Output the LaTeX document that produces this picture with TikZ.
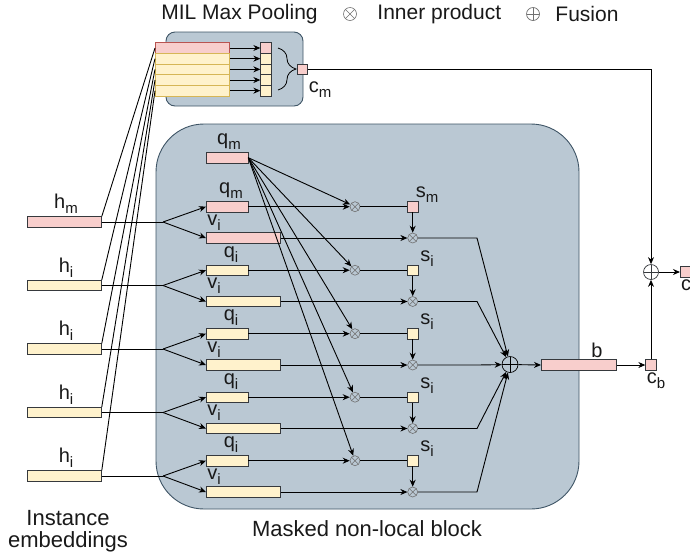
\documentclass[tikz,border=0pt]{standalone}
\usepackage{fontspec}
\setmainfont{Liberation Sans}
\usetikzlibrary{arrows.meta}
\usetikzlibrary{calc}
\usetikzlibrary{decorations.pathreplacing}

\definecolor{pinkfill}{HTML}{F8CECC}
\definecolor{pinkline}{HTML}{B85450}
\definecolor{yelfill}{HTML}{FFF2CC}
\definecolor{yelline}{HTML}{D6B656}
\definecolor{barline}{HTML}{36393D}
\definecolor{blkfill}{HTML}{BAC8D3}
\definecolor{blkline}{HTML}{3F5566}
\definecolor{symline}{HTML}{707070}

\newcommand{\lsub}[2]{#1\raisebox{-5pt}{\fontsize{15}{15}\selectfont #2}}

\begin{document}
\begin{tikzpicture}[x=1pt, y=-1pt, line width=.9pt,
    every node/.style={font=\fontsize{20}{24}\selectfont, text=black!90},
    arr/.style={-{Stealth[length=7pt, width=6pt]}},
    blk/.style={draw=blkline, fill=blkfill, line width=.9pt},
    bar/.style={draw=barline, line width=.8pt, inner sep=0pt, minimum height=10.5pt, anchor=west},
    row/.style={line width=.8pt, inner sep=0pt, minimum height=10.67pt, minimum width=74pt, anchor=west},
    cell/.style={draw=barline, line width=.8pt, inner sep=0pt, minimum height=10.67pt, minimum width=10.3pt},
    sq/.style={draw=barline, line width=.8pt, inner sep=0pt, minimum size=10.5pt},
    prod/.style={circle, draw=symline, line width=.6pt, inner sep=0pt, minimum size=#1,
      path picture={\draw[symline, line width=.5pt] (path picture bounding box.south west) -- (path picture bounding box.north east)
        (path picture bounding box.north west) -- (path picture bounding box.south east);}},
    fuse/.style={circle, draw=#1, line width=.7pt, inner sep=0pt, minimum size=16pt,
      path picture={\draw[#1, line width=.6pt] (path picture bounding box.north) -- (path picture bounding box.south)
        (path picture bounding box.west) -- (path picture bounding box.east);}},
    lbl/.style={inner sep=0pt},
    big/.style={inner sep=0pt, font=\fontsize{22}{26}\selectfont}]

    \useasboundingbox (0,0) rectangle (690,558);

    \node[lbl, font=\fontsize{21}{25}\selectfont] (leg1) at (239.5,14) {MIL Max Pooling};
    \node[prod=13pt] (leg2) at (350,14) {};
    \node[lbl, anchor=west, font=\fontsize{21}{25}\selectfont] (leg3) at (377,14) {Inner product};
    \node[fuse=symline, minimum size=13pt] (leg4) at (533,14) {};
    \node[lbl, anchor=west, font=\fontsize{21}{25}\selectfont] (leg5) at (555,14) {Fusion};

    \draw[blk, rounded corners=9pt] (166,32) rectangle (303,106);
    \draw[blk, rounded corners=48pt] (156,124) rectangle (579,509);

    \node[row, draw=pinkline, fill=pinkfill] (row1) at (155,48) {};
    \node[cell, fill=pinkfill] (col1) at (265.9,48) {};
    \foreach \i in {2,...,5} {
      \pgfmathsetmacro\ry{48+10.67*(\i-1)}
      \node[row, draw=yelline, fill=yelfill] (row\i) at (155,\ry) {};
      \node[cell, fill=yelfill] (col\i) at (265.9,\ry) {};
    }
    \foreach \i in {1,...,5}
      \draw[arr] (row\i.east) -- (col\i.west);

    \draw[decorate, decoration={brace, amplitude=18pt}, line width=.8pt] (278,48) -- (278,90);
    \node[sq, fill=pinkfill] (cm) at (302.5,69.5) {};
    \node[lbl] (cml) at (320,90) {\lsub{c}{m}};

    \node[fuse=black] (fz) at (510,364.5) {};
    \node[fuse=barline, minimum size=15pt] (fus) at (651,272) {};
    \node[bar, fill=pinkfill, minimum width=75pt] (b) at (541,365) {};
    \node[lbl] (bl) at (597,350) {b};
    \node[sq, fill=pinkfill] (cb) at (651,365) {};
    \node[lbl] (cbl) at (656,381) {\lsub{c}{b}};
    \node[bar, fill=pinkfill, minimum width=20pt] (out) at (680,272) {};
    \node[lbl] (outl) at (686,285) {c};

    \node[bar, fill=pinkfill, minimum width=41.5pt] (qt) at (206,157.7) {};
    \node[lbl] (qtl) at (229,142) {\lsub{q}{m}};

    \foreach \k/\sb/\fc in {1/m/pinkfill, 2/i/yelfill, 3/i/yelfill, 4/i/yelfill, 5/i/yelfill} {
      \pgfmathsetmacro\yy{222+63.5*(\k-1)}
      \node[bar, fill=\fc, minimum width=74pt] (h\k) at (27,\yy) {};
      \node[lbl] (hl\k) at (66,\yy-18) {\lsub{h}{\sb}};
      \node[bar, fill=\fc, minimum width=41.5pt] (q\k) at (206,\yy-15.3) {};
      \node[lbl] (ql\k) at (231,\yy-31) {\lsub{q}{\sb}};
      \node[bar, fill=\fc, minimum width=74pt] (v\k) at (206,\yy+16) {};
      \node[lbl] (vl\k) at (214,\yy+0.5) {\lsub{v}{i}};
      \node[prod=10pt] (p\k) at (355,\yy-15.3) {};
      \node[sq, fill=\fc] (s\k) at (412.7,\yy-15.3) {};
      \node[lbl] (sl\k) at (427,\yy-27) {\lsub{s}{\sb}};
      \node[prod=10pt] (r\k) at (412.7,\yy+16) {};
      \coordinate (sp\k) at (163,\yy);
      \coordinate (bd\k) at (477,\yy+16);

      \draw (h\k.north east) -- (row\k.west);
      \draw (h\k.east) -- (sp\k);
      \draw[arr] (sp\k) -- (q\k.west);
      \draw[arr] (sp\k) -- (v\k.west);
      \draw[arr] (q\k.east) -- (p\k);
      \draw[arr] (qt.east) -- (p\k);
      \draw (p\k) -- (s\k);
      \draw[arr] (s\k) -- (r\k);
      \draw[arr] (v\k.east) -- (r\k);
      \draw[arr] (r\k) -- (bd\k) -- (fz);
    }

    \draw[arr] (fz) -- (b.west);
    \draw[arr] (b.east) -- (cb.west);
    \draw[arr] (cb) -- (fus);
    \draw[arr] (cm.east) -| (fus);
    \draw[arr] (fus) -- (out.west);

    \node[big] (inst) at (68,518) {Instance};
    \node[big] (emb) at (68,542) {embeddings};
    \node[big] (mnl) at (367,529) {Masked non-local block};
\end{tikzpicture}
\end{document}
